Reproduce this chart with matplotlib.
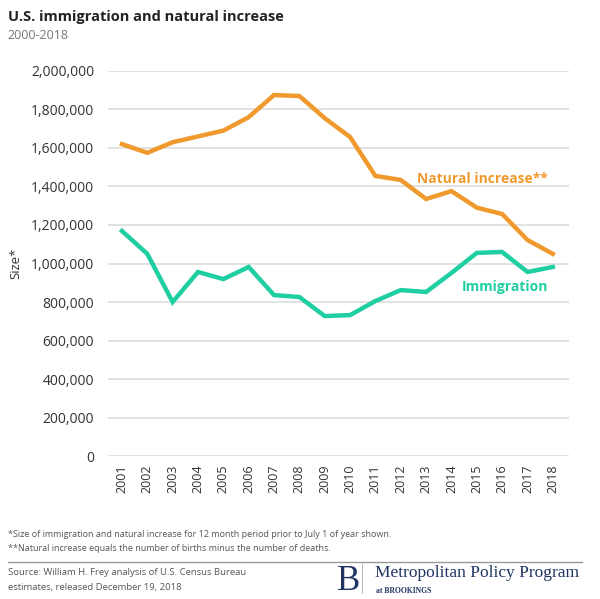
import matplotlib.pyplot as plt
from matplotlib.lines import Line2D

years = list(range(2001, 2019))
natural_increase = [1620000, 1575000, 1630000, 1660000, 1690000, 1760000, 1875000, 1870000,
                    1755000, 1657000, 1455000, 1434000, 1335000, 1376000, 1290000, 1257000,
                    1122000, 1050000]
immigration = [1169000, 1050000, 800000, 956000, 919000, 982000, 836000, 826000,
               727000, 732000, 805000, 862000, 852000, 951000, 1055000, 1060000,
               956000, 982000]
y_ticks = [0, 200000, 400000, 600000, 800000, 1000000, 1200000, 1400000,
           1600000, 1800000, 2000000]

orange = "#f09a2e"
teal = "#1fcfa2"
txt = "#333333"

plt.rcParams['font.family'] = ['Open Sans', 'DejaVu Sans']

fig = plt.figure(figsize=(6, 5.99), dpi=100)
ax = fig.add_axes([0.18, 0.2387, 0.768, 0.6428])

ax.plot(years, natural_increase, color=orange, lw=3.2, solid_joinstyle='miter')
ax.plot(years, immigration, color=teal, lw=3.2, solid_joinstyle='miter')

ax.set_xlim(2000.45, 2018.63)
ax.set_ylim(0, 2000000)
ax.set_yticks(y_ticks)
ax.set_yticklabels([f"{v:,}" for v in y_ticks], fontsize=10, color=txt)
ax.set_xticks(years)
ax.set_xticklabels([str(y) for y in years], rotation=90, fontsize=9, color=txt)
ax.tick_params(length=0, axis='y', pad=10)
ax.tick_params(length=0, axis='x', pad=6)
ax.grid(axis='y', color='#dddddd', lw=1.2)
ax.set_axisbelow(True)
for s in ax.spines.values():
    s.set_visible(False)
ax.set_ylabel("Size*", fontsize=9.5, color=txt, labelpad=6)

ax.text(2017.8, 1440000, "Natural increase**", color=orange, fontsize=10,
        fontweight='bold', ha='right', va='center')
ax.text(2017.8, 880000, "Immigration", color=teal, fontsize=10,
        fontweight='bold', ha='right', va='center')

fig.text(0.013, 0.983, "U.S. immigration and natural increase", fontsize=10.5,
         fontweight='bold', color='#222222', va='top')
fig.text(0.013, 0.952, "2000-2018", fontsize=9, color='#777777', va='top')

fig.text(0.013, 0.107, "*Size of immigration and natural increase for 12 month period prior to July 1 of year shown.",
         fontsize=6.5, color='#555555', va='center')
fig.text(0.013, 0.084, "**Natural increase equals the number of births minus the number of deaths.",
         fontsize=6.5, color='#555555', va='center')
fig.add_artist(Line2D([0.013, 0.97], [0.062, 0.062], color='#999999', lw=1,
                      transform=fig.transFigure))
fig.text(0.013, 0.044, "Source: William H. Frey analysis of U.S. Census Bureau",
         fontsize=6.8, color='#555555', va='center')
fig.text(0.013, 0.019, "estimates, released December 19, 2018",
         fontsize=6.8, color='#555555', va='center')

navy = "#1f3461"
fig.text(0.562, 0.030, "B", fontsize=25, family='Liberation Serif', color=navy,
         va='center', ha='left')
fig.add_artist(Line2D([0.603, 0.603], [0.010, 0.058], color='#aaaaaa', lw=0.6,
                      transform=fig.transFigure))
fig.text(0.625, 0.044, "Metropolitan Policy Program", fontsize=12.5,
         family='Liberation Serif', color=navy, va='center')
fig.text(0.627, 0.014, "at BROOKINGS", fontsize=5.5, family='Liberation Serif',
         color=navy, va='center', fontweight='bold')

fig.savefig("out.png", dpi=100, facecolor='white')
